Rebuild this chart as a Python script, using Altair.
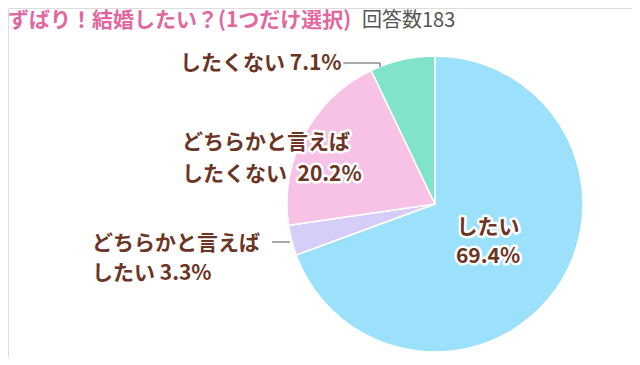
import altair as alt
import pandas as pd

# ---- data ----
categories = ["したい", "どちらかと言えばしたい", "どちらかと言えばしたくない", "したくない"]
shares = [69.4, 3.3, 20.2, 7.1]
slice_colors = ["#9be1fb", "#d6cdf8", "#f8c2e6", "#82e3cc"]
title_text = "ずばり！結婚したい？(1つだけ選択)"
respondents = 183

FONT = "Noto Sans CJK JP"
BROWN = "#6b3424"

pie_df = pd.DataFrame({"cat": categories, "share": shares, "order": list(range(len(categories)))})

# ---- layout (pixel positions, view coords) ----
CX, CY, R = 427, 196, 148

label_rows = [
    {"t": f"したくない {shares[3]}%", "x": 172, "y": 56},
    {"t": "どちらかと言えば", "x": 174, "y": 135},
    {"t": f"したくない\u2002{shares[2]}%", "x": 174, "y": 167},
    {"t": "どちらかと言えば", "x": 84, "y": 236},
    {"t": f"したい {shares[1]}%", "x": 84, "y": 266},
]
inner_rows = [
    {"t": "したい", "x": 480, "y": 220},
    {"t": f"{shares[0]}%", "x": 480, "y": 249},
]
leader_pts = [
    {"seg": "a", "i": 0, "x": 335, "y": 55},
    {"seg": "a", "i": 1, "x": 372, "y": 55},
    {"seg": "a", "i": 2, "x": 372, "y": 59},
    {"seg": "b", "i": 0, "x": 264, "y": 234},
    {"seg": "b", "i": 1, "x": 282, "y": 234},
]

pie = alt.Chart(pie_df).mark_arc(outerRadius=R, stroke="white", strokeWidth=1.5).encode(
    theta=alt.Theta("share:Q", stack=True),
    order=alt.Order("order:Q"),
    color=alt.Color("cat:N", scale=alt.Scale(domain=categories, range=slice_colors), legend=None),
    x=alt.value(CX),
    y=alt.value(CY),
)


def text_layer(df, align, halo):
    base = alt.Chart(df)
    kw = dict(font=FONT, fontSize=21, fontWeight="bold", align=align, baseline="middle")
    if halo:
        m = base.mark_text(fill="white", stroke="white", strokeWidth=5, strokeJoin="round", **kw)
    else:
        m = base.mark_text(fill=BROWN, **kw)
    return m.encode(
        x=alt.X("x:Q", scale=None, axis=None),
        y=alt.Y("y:Q", scale=None, axis=None),
        text="t:N",
    )


left_df = pd.DataFrame(label_rows)
center_df = pd.DataFrame(inner_rows)

leaders = alt.Chart(pd.DataFrame(leader_pts)).mark_line(color="#555555", strokeWidth=1).encode(
    x=alt.X("x:Q", scale=None, axis=None),
    y=alt.Y("y:Q", scale=None, axis=None),
    detail="seg:N",
    order="i:Q",
)

title = alt.Chart(pd.DataFrame({"t": [title_text]})).mark_text(
    font=FONT, fontSize=21, fontWeight="bold", color="#e2679f", align="left", baseline="middle"
).encode(x=alt.value(0), y=alt.value(13), text="t:N")

count = alt.Chart(pd.DataFrame({"t": [f"回答数{respondents}"]})).mark_text(
    font=FONT, fontSize=20, color="#555555", align="left", baseline="middle"
).encode(x=alt.value(354), y=alt.value(13), text="t:N")

chart = alt.layer(
    pie, leaders,
    text_layer(left_df, "left", True), text_layer(center_df, "center", True),
    text_layer(left_df, "left", False), text_layer(center_df, "center", False),
    title, count,
).properties(
    width=624, height=349, autosize=alt.AutoSizeParams(type="none"), padding=0
).configure_view(strokeWidth=0, stroke="transparent").configure_axis(
    domain=False, ticks=False, labels=False, grid=False
).configure(background="white")

chart.save("out.html", embed_options={"renderer": "svg", "actions": False})
